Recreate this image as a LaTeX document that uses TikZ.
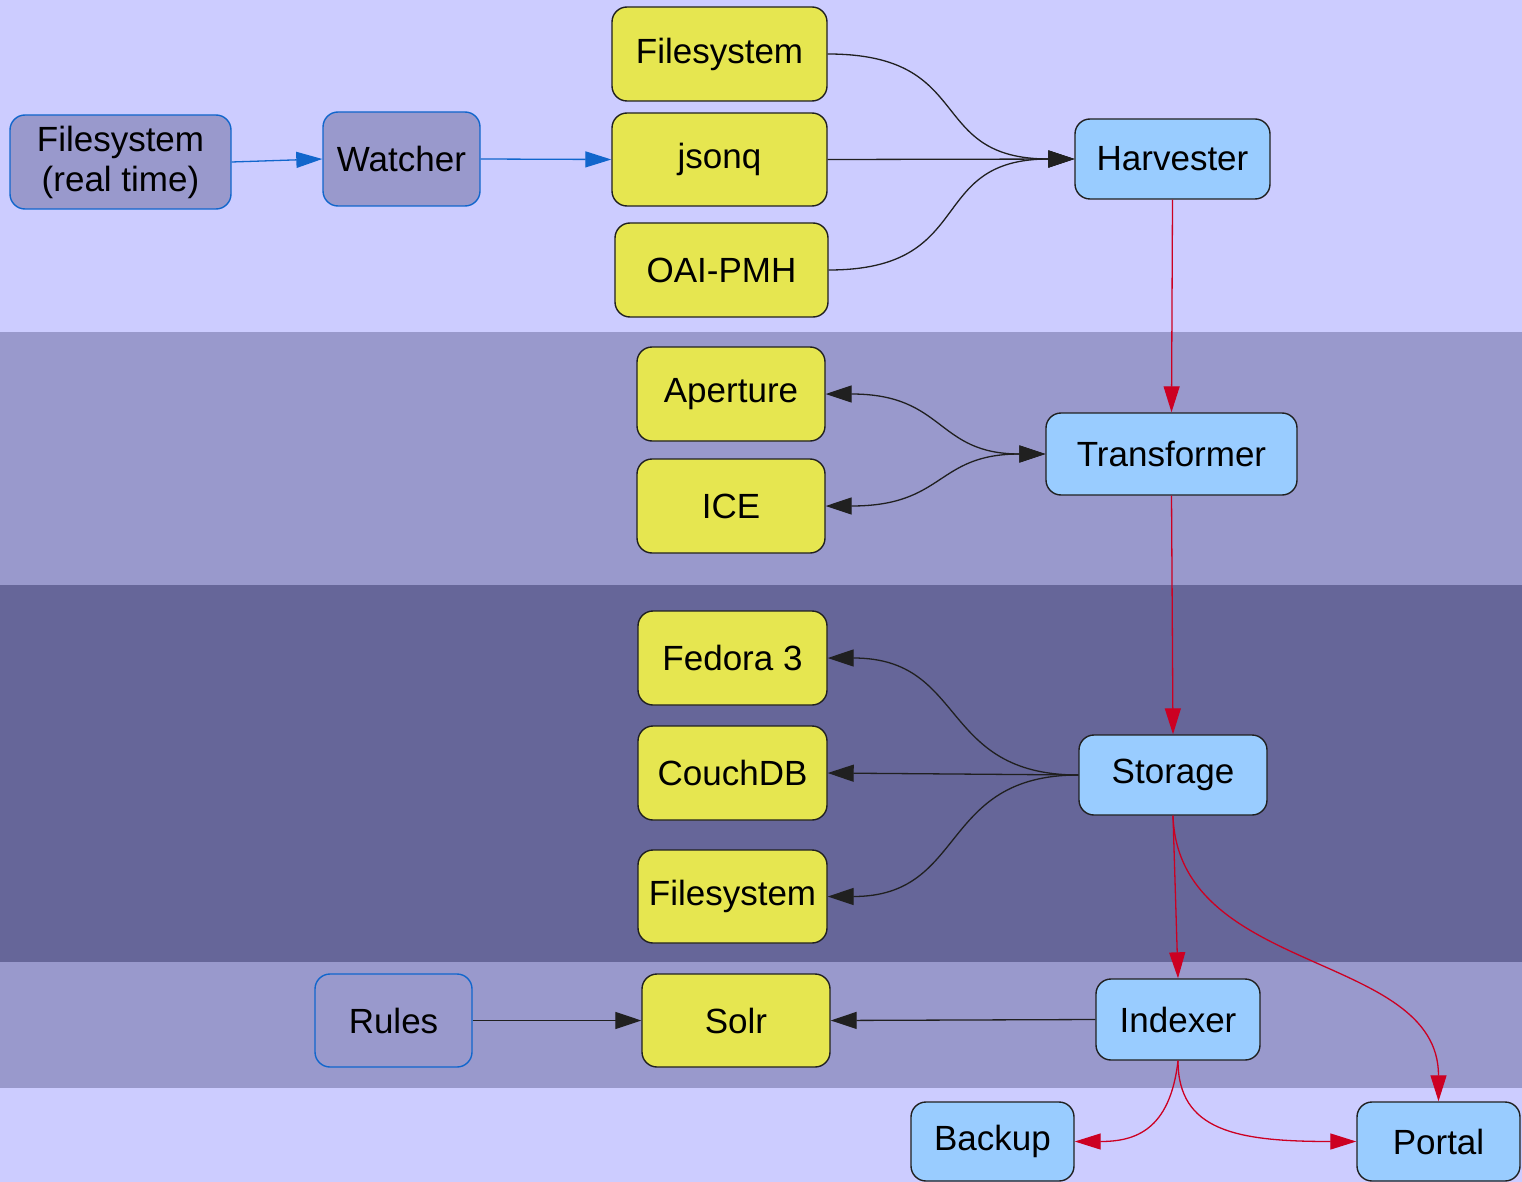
\documentclass[tikz,border=0pt]{standalone}
\usepackage{fontspec}
\setmainfont{Liberation Sans}
\usetikzlibrary{arrows.meta}
\definecolor{bandA}{HTML}{CCCCFF}
\definecolor{bandB}{HTML}{9999CC}
\definecolor{bandC}{HTML}{666699}
\definecolor{yel}{HTML}{E6E650}
\definecolor{lblue}{HTML}{99CCFF}
\definecolor{eblue}{HTML}{1166CC}
\definecolor{ered}{HTML}{CC0022}
\definecolor{edark}{HTML}{202020}
\begin{document}
\begin{tikzpicture}[x=1pt,y=-1pt,
  box/.style={rounded corners=15pt, draw=edark, line width=1.4pt, inner sep=0pt,
    font=\fontsize{35pt}{40pt}\selectfont, align=center},
  ybox/.style={box, fill=yel},
  bbox/.style={box, fill=lblue},
  pbox/.style={box, fill=bandB, draw=eblue},
  sz/.style 2 args={minimum width=#1pt, minimum height=#2pt},
  blk/.style={-{Triangle[length=26pt,width=17pt]}, line width=1.3pt, draw=edark},
  blkboth/.style={{Triangle[length=26pt,width=17pt]}-{Triangle[length=26pt,width=17pt]}, line width=1.3pt, draw=edark},
  blu/.style={-{Triangle[length=26pt,width=16pt]}, line width=1.3pt, draw=eblue},
  rd/.style={-{Triangle[length=26pt,width=16pt]}, line width=1.3pt, draw=ered}
]
\useasboundingbox (0,0) rectangle (1522,1182);
\clip (0,0) rectangle (1522,1182);
% bands
\fill[bandA] (0,0) rectangle (1522,332);
\fill[bandB] (0,332) rectangle (1522,585);
\fill[bandC] (0,585) rectangle (1522,962);
\fill[bandB] (0,962) rectangle (1522,1088);
\fill[bandA] (0,1088) rectangle (1522,1182);

% nodes
\node[pbox, sz={221}{94}] (fsrt) at (120.5,162) {Filesystem\\(real time)};
\node[pbox, sz={157}{94}] (watcher) at (401.5,159) {Watcher};
\node[ybox, sz={215}{94}] (fs1) at (719.5,54) {Filesystem};
\node[ybox, sz={215}{93}] (jsonq) at (719.5,159.5) {jsonq};
\node[ybox, sz={213}{94}] (oai) at (721.5,270) {OAI-PMH};
\node[bbox, sz={195}{80}] (harv) at (1172.5,159) {Harvester};
\node[ybox, sz={188}{94}] (aperture) at (731,394) {Aperture};
\node[ybox, sz={188}{94}] (ice) at (731,506) {ICE};
\node[bbox, sz={251}{82}] (trans) at (1171.5,454) {Transformer};
\node[ybox, sz={189}{94}] (fedora) at (732.5,658) {Fedora 3};
\node[ybox, sz={189}{94}] (couch) at (732.5,773) {CouchDB};
\node[ybox, sz={189}{93}] (fs2) at (732.5,896.5) {Filesystem};
\node[bbox, sz={188}{80}] (storage) at (1173,775) {Storage};
\node[pbox, sz={157}{93}] (rules) at (393.5,1020.5) {Rules};
\node[ybox, sz={188}{93}] (solr) at (736,1020.5) {Solr};
\node[bbox, sz={164}{81}] (indexer) at (1178,1019.5) {Indexer};
\node[bbox, sz={163}{79}] (backup) at (992.5,1141.5) {Backup};
\node[bbox, sz={163}{79}] (portal) at (1438.5,1141.5) {Portal};

% edges
\draw[blu] (fsrt.east) -- (watcher.west);
\draw[blu] (watcher.east) -- (jsonq.west);
\draw[blk] (fs1.east) .. controls +(150,0) and +(-150,0) .. (harv.west);
\draw[blk] (jsonq.east) -- (harv.west);
\draw[blk] (oai.east) .. controls +(150,0) and +(-150,0) .. (harv.west);
\draw[rd] (harv.south) -- (trans.north);
\draw[blkboth] (aperture.east) .. controls +(120,0) and +(-110,0) .. (trans.west);
\draw[blkboth] (ice.east) .. controls +(120,0) and +(-110,0) .. (trans.west);
\draw[rd] (trans.south) -- (storage.north);
\draw[blk] (storage.west) .. controls +(-140,0) and +(140,0) .. (fedora.east);
\draw[blk] (storage.west) -- (couch.east);
\draw[blk] (storage.west) .. controls +(-140,0) and +(140,0) .. (fs2.east);
\draw[rd] (storage.south) -- (indexer.north);
\draw[rd] (storage.south) .. controls +(5,160) and +(0,-150) .. (portal.north);
\draw[blk] (indexer.west) -- (solr.east);
\draw[blk] (rules.east) -- (solr.west);
\draw[rd] (indexer.south) .. controls +(-8,70) and +(60,0) .. (backup.east);
\draw[rd] (indexer.south) .. controls +(0,70) and +(-120,0) .. (portal.west);
\end{tikzpicture}
\end{document}
